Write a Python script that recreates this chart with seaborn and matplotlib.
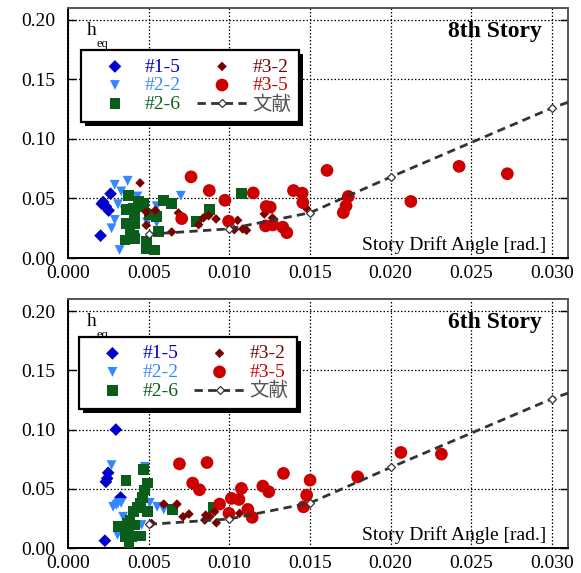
import matplotlib
matplotlib.use("Agg")
import matplotlib.pyplot as plt
import seaborn as sns
import numpy as np
from matplotlib.patches import Rectangle
from matplotlib.transforms import IdentityTransform
from matplotlib.ticker import MultipleLocator, FormatStrFormatter

# ---------------- data ----------------
# 8th story
s8_15_x = [0.00202, 0.00210, 0.00218, 0.00235, 0.00252, 0.00264]
s8_15_y = [0.0188, 0.0455, 0.0470, 0.0433, 0.0399, 0.0540]

s8_22_x = [0.0029, 0.0037, 0.0033, 0.0031, 0.0029, 0.0027, 0.0032, 0.0070, 0.0055, 0.0043, 0.0055, 0.0049, 0.0035, 0.0040]
s8_22_y = [0.0615, 0.0649, 0.0559, 0.0452, 0.0320, 0.0250, 0.0067, 0.0523, 0.0298, 0.0517, 0.0435, 0.0300, 0.0400, 0.0380]

s8_26_x = [0.00377, 0.00435, 0.00470, 0.00590, 0.00641, 0.00363, 0.00404, 0.00456, 0.00414, 0.00507,
           0.00549, 0.00363, 0.00414, 0.00384, 0.00404, 0.00353, 0.00414, 0.00487, 0.00487, 0.00538,
           0.00559, 0.00878, 0.00796, 0.01075]
s8_26_y = [0.0523, 0.0475, 0.0461, 0.0483, 0.0461, 0.0405, 0.0419, 0.0433, 0.0348, 0.0363,
           0.0348, 0.0293, 0.0293, 0.0236, 0.0194, 0.0152, 0.0166, 0.0138, 0.0081, 0.0067,
           0.0222, 0.0405, 0.0306, 0.0545]

s8_32_x = [0.00447, 0.00485, 0.00542, 0.00485, 0.00643, 0.00685, 0.00810, 0.00839, 0.00872, 0.00918,
           0.01052, 0.01031, 0.01083, 0.01107, 0.01217, 0.01268, 0.01477]
s8_32_y = [0.0631, 0.0387, 0.0401, 0.0275, 0.0219, 0.0379, 0.0280, 0.0337, 0.0356, 0.0328,
           0.0317, 0.0238, 0.0244, 0.0233, 0.0370, 0.0337, 0.0419]

s8_35_x = [0.00763, 0.00876, 0.00973, 0.00705, 0.00996, 0.01149, 0.01229, 0.01254, 0.01225, 0.01270,
           0.01332, 0.01357, 0.01398, 0.01452, 0.01456, 0.01606, 0.01738, 0.01724, 0.01707, 0.02126,
           0.02425, 0.02724]
s8_35_y = [0.0682, 0.0567, 0.0485, 0.0331, 0.0309, 0.0547, 0.0433, 0.0427, 0.0270, 0.0278,
           0.0259, 0.0213, 0.0567, 0.0545, 0.0466, 0.0736, 0.0517, 0.0438, 0.0382, 0.0475,
           0.0770, 0.0708]

# 6th story
s6_15_x = [0.00297, 0.00249, 0.00243, 0.00235, 0.00326, 0.00229]
s6_15_y = [0.1000, 0.0635, 0.0588, 0.0559, 0.0427, 0.0062]

s6_22_x = [0.0027, 0.0028, 0.0030, 0.0031, 0.00342, 0.00307, 0.00456, 0.00476, 0.00507, 0.00553, 0.00594, 0.0033]
s6_22_y = [0.0700, 0.0348, 0.0363, 0.0377, 0.0264, 0.0110, 0.0194, 0.0686, 0.0382, 0.0348, 0.0326, 0.0380]

s6_26_x = [0.00470, 0.00359, 0.00491, 0.00476, 0.00462, 0.00450, 0.00491, 0.00404, 0.00384, 0.00311,
           0.00373, 0.00414, 0.00353, 0.00394, 0.00450, 0.00379, 0.00648, 0.00899, 0.00430, 0.00370]
s6_26_y = [0.0664, 0.0573, 0.0550, 0.0489, 0.0427, 0.0376, 0.0306, 0.0306, 0.0236, 0.0180,
           0.0166, 0.0194, 0.0095, 0.0095, 0.0101, 0.0025, 0.0326, 0.0343, 0.0340, 0.0210]

s6_32_x = [0.00594, 0.00676, 0.00713, 0.00750, 0.00518, 0.00848, 0.00878, 0.00909, 0.00920, 0.00854, 0.01064]
s6_32_y = [0.0371, 0.0371, 0.0264, 0.0287, 0.0208, 0.0236, 0.0264, 0.0306, 0.0213, 0.0278, 0.0293]

s6_35_x = [0.00691, 0.00862, 0.00773, 0.00815, 0.00940, 0.00998, 0.01013, 0.01060, 0.01075, 0.01115,
           0.01142, 0.01208, 0.01245, 0.01336, 0.01501, 0.01480, 0.01460, 0.01796, 0.02064, 0.02315]
s6_35_y = [0.0711, 0.0722, 0.0548, 0.0492, 0.0371, 0.0293, 0.0419, 0.0410, 0.0503, 0.0326,
           0.0259, 0.0523, 0.0475, 0.0630, 0.0573, 0.0447, 0.0348, 0.0601, 0.0807, 0.0793]

# reference curve (文献)
ref_x = [0.005, 0.010, 0.015, 0.020, 0.030, 0.035]
ref_y = [0.0200, 0.0245, 0.0380, 0.0680, 0.1260, 0.1500]

labels = ["#1-5", "#2-2", "#2-6", "#3-2", "#3-5", "文献"]
colors = ["#0000CC", "#3388FF", "#0A5E1A", "#7A0000", "#CC0000", "#555555"]

# ---------------- style ----------------
sns.set_theme(style="white")
plt.rcParams["font.family"] = ["Liberation Serif", "Noto Sans CJK JP", "DejaVu Sans"]
plt.rcParams["axes.unicode_minus"] = False

fig = plt.figure(figsize=(5.81, 5.73), dpi=100)
ax_top = fig.add_axes([0.1170, 0.5497, 0.8606, 0.4363])
ax_bot = fig.add_axes([0.1170, 0.0436, 0.8606, 0.4340])

panels = [
    (ax_top, "8th Story", (s8_15_x, s8_15_y), (s8_22_x, s8_22_y), (s8_26_x, s8_26_y),
     (s8_32_x, s8_32_y), (s8_35_x, s8_35_y), (0.027, 0.833)),
    (ax_bot, "6th Story", (s6_15_x, s6_15_y), (s6_22_x, s6_22_y), (s6_26_x, s6_26_y),
     (s6_32_x, s6_32_y), (s6_35_x, s6_35_y), (0.022, 0.850)),
]

legends = []
for ax, title, d15, d22, d26, d32, d35, lpos in panels:
    sns.scatterplot(x=d15[0], y=d15[1], ax=ax, marker="D", s=42, color=colors[0],
                    edgecolor="none", label=labels[0], zorder=3)
    sns.scatterplot(x=d22[0], y=d22[1], ax=ax, marker="v", s=50, color=colors[1],
                    edgecolor="none", label=labels[1], zorder=3)
    sns.scatterplot(x=d26[0], y=d26[1], ax=ax, marker="s", s=60, color=colors[2],
                    edgecolor="none", label=labels[2], zorder=3)
    sns.scatterplot(x=d32[0], y=d32[1], ax=ax, marker="D", s=24, color=colors[3],
                    edgecolor="none", label=labels[3], zorder=3)
    sns.scatterplot(x=d35[0], y=d35[1], ax=ax, marker="o", s=84, color=colors[4],
                    edgecolor="none", label=labels[4], zorder=3)
    sns.lineplot(x=ref_x, y=ref_y, ax=ax, color="#333333", linestyle=(0, (3.0, 1.9)),
                 linewidth=2.0, marker="D", markersize=4.5, markerfacecolor="white",
                 markeredgecolor="#333333", markeredgewidth=0.9, label=labels[5], zorder=4)

    ax.set_xlim(0, 0.031)
    ax.set_ylim(0, 0.21)
    ax.xaxis.set_major_locator(MultipleLocator(0.005))
    ax.yaxis.set_major_locator(MultipleLocator(0.05))
    ax.xaxis.set_major_formatter(FormatStrFormatter("%.3f"))
    ax.yaxis.set_major_formatter(FormatStrFormatter("%.2f"))
    ax.set_xlabel("")
    ax.set_ylabel("")
    ax.grid(True, color="black", linestyle=(0, (1.2, 1.6)), linewidth=0.9)
    ax.set_axisbelow(True)
    ax.tick_params(axis="y", which="major", direction="in", length=6, width=1,
                   left=True, right=True, labelsize=14, pad=9, colors="black")
    ax.tick_params(axis="x", which="major", direction="in", length=0,
                   bottom=True, labelsize=14, pad=5, colors="black")
    for side in ["left", "bottom"]:
        ax.spines[side].set_color("black")
        ax.spines[side].set_linewidth(1.4)
    for side in ["top", "right"]:
        ax.spines[side].set_color("#555555")
        ax.spines[side].set_linewidth(1.4)

    ax.text(0.947, 0.884, title, transform=ax.transAxes, ha="right", va="baseline",
            fontsize=17, fontweight="bold", color="black")
    ax.text(0.038, 0.892, "h", transform=ax.transAxes, ha="left", va="baseline",
            fontsize=14, color="black")
    ax.text(0.058, 0.846, "eq", transform=ax.transAxes, ha="left", va="baseline",
            fontsize=9, color="black")
    ax.text(0.957, 0.032, "Story Drift Angle [rad.]", transform=ax.transAxes,
            ha="right", va="baseline", fontsize=14, color="black")

    leg = ax.legend(loc="upper left", bbox_to_anchor=lpos, borderaxespad=0, ncol=2,
                    fontsize=14, frameon=True, fancybox=False, framealpha=1,
                    edgecolor="black", handlelength=2.6, handletextpad=0.25,
                    columnspacing=0.8, borderpad=0.42, labelspacing=0.05)
    leg.get_frame().set_linewidth(1.6)
    leg.set_zorder(10)
    for t, c in zip(leg.get_texts(), colors):
        t.set_color(c)
    legends.append((ax, leg))

fig.canvas.draw()
for ax, leg in legends:
    bb = leg.get_frame().get_window_extent()
    shadow = Rectangle((bb.x0 + 4, bb.y0 - 4), bb.width, bb.height,
                       transform=IdentityTransform(), facecolor="black",
                       edgecolor="none", zorder=9.9, clip_on=False)
    ax.add_artist(shadow)

fig.savefig("out.png", dpi=100)
